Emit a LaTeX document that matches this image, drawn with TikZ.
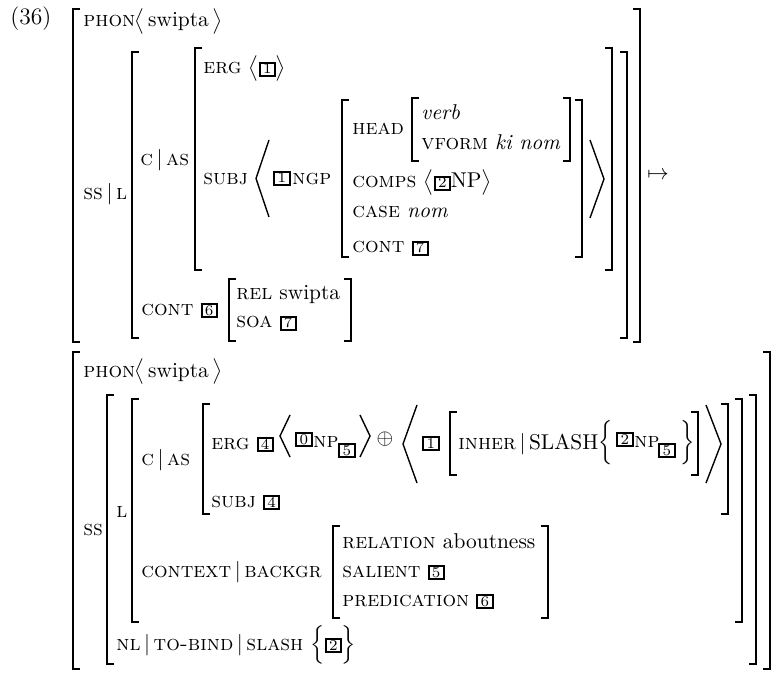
\documentclass[tikz,border=0pt]{standalone}
\usepackage{amsmath}
\usepackage{tikz}
\tikzset{
  brk/.style={line width=0.85pt},
  ang/.style={line width=0.65pt},
  lbl/.style={anchor=base west, inner sep=0pt},
  dlm/.style={anchor=center, inner sep=0pt},
}
\newcommand{\tagbox}[1]{{\fboxsep=0pt\fboxrule=0.9pt\fbox{\makebox[6.2pt]{\rule[-0.6pt]{0pt}{5.4pt}\scriptsize #1}}}}
% brackets: x, top, bottom
\newcommand{\lbrk}[3]{\draw[brk] (#1+7,#2) -- (#1,#2) -- (#1,#3) -- (#1+7,#3);}
\newcommand{\rbrk}[3]{\draw[brk] (#1-7,#2) -- (#1,#2) -- (#1,#3) -- (#1-7,#3);}
% angles: x ends, x tip, top, bottom
\newcommand{\angl}[4]{\draw[ang] (#1,#3) -- (#2,{(#3+#4)/2}) -- (#1,#4);}

\begin{document}
\begin{tikzpicture}[x=0.467pt, y=-0.467pt]
\useasboundingbox (0,0) rectangle (778,675);

% first AVM
\node[lbl] (exnum) at (10,25) {\fontsize{11}{13}\selectfont(36)};
\lbrk{73}{9}{342} \rbrk{640}{9}{342}
\node[lbl] (phonA) at (83,27) {\textsc{phon}};
\node[lbl] (phonvA) at (134,27) {$\big\langle\,$swipta$\,\big\rangle$};
\node[lbl] (ssl) at (83,200) {\textsc{ss}$\,|\,$\textsc{l}};
\lbrk{132}{52}{338} \rbrk{627}{52}{338}
\node[lbl] (casA) at (140,166) {\textsc{c}$\,|\,$\textsc{as}};
\lbrk{195}{48}{270} \rbrk{612}{48}{270}
\node[lbl] (ergA) at (203,74) {\textsc{erg} $\big\langle$\tagbox{1}$\big\rangle$};
\node[lbl] (subjA) at (203,185) {\textsc{subj}};
\angl{269}{256}{140}{217}
\node[lbl] (tagoneA) at (273,183) {\tagbox{1}};
\node[lbl] (ngp) at (292,185) {\textsc{ngp}};
\lbrk{342}{100}{257} \rbrk{582}{100}{257}
\angl{590}{604}{140}{218}
\node[lbl] (head) at (352,135) {\textsc{head}};
\lbrk{412}{98}{161} \rbrk{570}{98}{161}
\node[lbl] (verb) at (421,120) {\textit{verb}};
\node[lbl] (vform) at (421,150) {\textsc{vform} \textit{ki nom}};
\node[lbl] (comps) at (352,188) {\textsc{comps} $\big\langle$\tagbox{2}NP$\big\rangle$};
\node[lbl] (caseA) at (352,218) {\textsc{case} \textit{nom}};
\node[lbl] (contA) at (352,253) {\textsc{cont} \tagbox{7}};
\node[lbl] (contsix) at (141,315) {\textsc{cont} \tagbox{6}};
\lbrk{229}{279}{341} \rbrk{351}{279}{341}
\node[lbl] (rel) at (236,300) {\textsc{rel} swipta};
\node[lbl] (soa) at (236,328) {\textsc{soa} \tagbox{7}};
\node[anchor=west, inner sep=0pt] (maps) at (647,176) {$\mapsto$};

% second AVM
\lbrk{73}{352}{669} \rbrk{770}{352}{669}
\node[lbl] (phonB) at (83,377) {\textsc{phon}};
\node[lbl] (phonvB) at (134,377) {$\big\langle\,$swipta$\,\big\rangle$};
\node[lbl] (ss) at (83,535) {\textsc{ss}};
\lbrk{107}{395}{664} \rbrk{756}{395}{664}
\node[lbl] (l) at (116,517) {\textsc{l}};
\lbrk{132}{399}{622} \rbrk{742}{399}{622}
\node[lbl] (casB) at (141,465) {\textsc{c}$\,|\,$\textsc{as}};
\lbrk{203}{404}{514} \rbrk{728}{404}{514}
\node[lbl] (ergB) at (211,449) {\textsc{erg} \tagbox{4}};
\angl{290}{280}{415}{457}
\node[lbl] (tagzero) at (295,444) {\tagbox{0}};
\node[lbl] (npB) at (313,447) {\textsc{np}};
\node[lbl] (tagfiveB) at (338,455) {\tagbox{5}};
\angl{360}{370}{415}{457}
\node[dlm] (oplus) at (385,439) {$\oplus$};
\angl{417}{403}{405}{483}
\node[lbl] (tagoneB) at (422,448) {\tagbox{1}};
\lbrk{450}{412}{475} \rbrk{698}{412}{475}
\node[lbl] (inher) at (458,449) {\textsc{inher}$\,|\,$SLASH};
\node[dlm] (lbrace) at (606,443) {\scalebox{1}[1.15]{$\Big\{$}};
\node[lbl] (tagtwoB) at (616,444) {\tagbox{2}};
\node[lbl] (npC) at (634,447) {\textsc{np}};
\node[lbl] (tagfiveC) at (658,455) {\tagbox{5}};
\node[dlm] (rbrace) at (688,443) {\scalebox{1}[1.15]{$\Big\}$}};
\angl{706}{721}{405}{483}
\node[lbl] (subjB) at (211,507) {\textsc{subj} \tagbox{4}};
\node[lbl] (context) at (141,577) {\textsc{context}$\,|\,$\textsc{backgr}};
\lbrk{333}{526}{618} \rbrk{548}{526}{618}
\node[lbl] (relation) at (342,548) {\textsc{relation} aboutness};
\node[lbl] (salient) at (342,577) {\textsc{salient} \tagbox{5}};
\node[lbl] (predic) at (342,606) {\textsc{predication} \tagbox{6}};
\node[lbl] (nl) at (116,650) {\textsc{nl}$\,|\,$\textsc{to-bind}$\,|\,$\textsc{slash} $\Big\{$\tagbox{2}$\Big\}$};
\end{tikzpicture}
\end{document}
